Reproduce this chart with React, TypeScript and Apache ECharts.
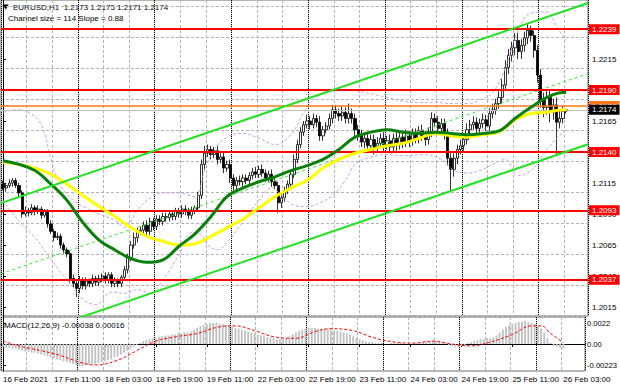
import React, { useEffect, useRef } from "react";
import * as echarts from "echarts";

// ---------- DATA ----------
const firstOpen = 1.2114;
const closes = [
  1.2111, 1.2113, 1.2115, 1.2117, 1.2113, 1.2107, 1.2090, 1.2093, 1.2091, 1.2095,
  1.2092, 1.2094, 1.2089, 1.2092, 1.2082, 1.2076, 1.2071, 1.2072, 1.2065, 1.2061,
  1.2058, 1.2038, 1.2034, 1.2030, 1.2037, 1.2032, 1.2036, 1.2034, 1.2038, 1.2035,
  1.2038, 1.2040, 1.2037, 1.2041, 1.2034, 1.2036, 1.2034, 1.2039, 1.2045, 1.2055,
  1.2065, 1.2071, 1.2076, 1.2077, 1.2081, 1.2076, 1.2084, 1.2080, 1.2086, 1.2084,
  1.2088, 1.2087, 1.2090, 1.2088, 1.2092, 1.2090, 1.2094, 1.2092, 1.2089, 1.2093,
  1.2095, 1.2105, 1.2130, 1.2139, 1.2142, 1.2138, 1.2141, 1.2134, 1.2136, 1.2127,
  1.2130, 1.2119, 1.2113, 1.2117, 1.2116, 1.2119, 1.2117, 1.2121, 1.2124, 1.2122,
  1.2126, 1.2123, 1.2119, 1.2122, 1.2116, 1.2113, 1.2099, 1.2103, 1.2109, 1.2114,
  1.2122, 1.2134, 1.2146, 1.2156, 1.2162, 1.2165, 1.2162, 1.2167, 1.2164, 1.2153,
  1.2158, 1.2161, 1.2167, 1.2174, 1.2171, 1.2169, 1.2172, 1.2167, 1.2171, 1.2167,
  1.2158, 1.2153, 1.2148, 1.2151, 1.2145, 1.2150, 1.2143, 1.2147, 1.2151, 1.2146,
  1.2149, 1.2144, 1.2151, 1.2146, 1.2152, 1.2148, 1.2153, 1.2149, 1.2155, 1.2151,
  1.2157, 1.2153, 1.2150, 1.2156, 1.2167, 1.2164, 1.2159, 1.2163, 1.2155, 1.2135,
  1.2126, 1.2135, 1.2142, 1.2145, 1.2150, 1.2158, 1.2162, 1.2164, 1.2159, 1.2163,
  1.2166, 1.2161, 1.2171, 1.2174, 1.2179, 1.2184, 1.2194, 1.2208, 1.2218, 1.2224,
  1.2230, 1.2221, 1.2226, 1.2232, 1.2238, 1.2234, 1.2222, 1.2202, 1.2182, 1.2176,
  1.2184, 1.2172, 1.2178, 1.2164, 1.2167, 1.2173, 1.2174,
];
// wick lengths in pips beyond the candle body
const upperWickPips = [
  3, 2, 3, 2, 2, 2, 2, 3, 2, 3, 2, 3, 2, 2, 2, 3, 2, 3, 2, 2,
  2, 2, 3, 2, 3, 2, 3, 2, 3, 2, 3, 2, 3, 2, 2, 3, 2, 2, 3, 3,
  3, 4, 3, 3, 3, 4, 3, 3, 3, 3, 3, 3, 3, 3, 3, 3, 3, 3, 3, 3,
  2, 3, 4, 6, 4, 3, 3, 4, 3, 4, 3, 4, 3, 3, 4, 3, 3, 3, 3, 4,
  3, 4, 3, 3, 4, 3, 3, 3, 3, 3, 3, 4, 4, 4, 3, 5, 4, 4, 3, 5,
  3, 3, 4, 4, 4, 4, 5, 4, 8, 4, 4, 4, 5, 4, 5, 4, 4, 5, 4, 5,
  4, 5, 4, 5, 4, 4, 5, 4, 4, 4, 4, 5, 4, 4, 5, 4, 5, 4, 4, 4,
  4, 4, 4, 5, 4, 5, 4, 5, 4, 4, 5, 4, 4, 5, 4, 5, 5, 6, 5, 5,
  6, 6, 5, 5, 5, 4, 4, 4, 5, 6, 5, 6, 5, 6, 6, 4, 1,
];
const lowerWickPips = [
  2, 3, 2, 3, 2, 3, 3, 2, 3, 2, 3, 2, 3, 2, 3, 2, 3, 2, 3, 3,
  3, 4, 3, 7, 4, 3, 3, 3, 3, 3, 3, 3, 3, 3, 3, 3, 3, 3, 3, 3,
  3, 3, 4, 3, 3, 3, 3, 3, 3, 3, 3, 3, 3, 3, 3, 3, 3, 3, 3, 3,
  3, 3, 3, 4, 3, 4, 3, 4, 3, 4, 3, 4, 4, 4, 3, 4, 3, 3, 3, 3,
  3, 3, 3, 3, 4, 3, 8, 4, 3, 3, 3, 3, 3, 3, 3, 3, 4, 3, 4, 4,
  4, 3, 3, 4, 4, 4, 4, 4, 4, 4, 5, 4, 4, 5, 4, 5, 5, 4, 4, 5,
  4, 5, 4, 5, 4, 5, 4, 5, 4, 4, 4, 4, 5, 4, 4, 4, 4, 5, 5, 6,
  18, 6, 5, 4, 4, 4, 4, 4, 4, 4, 4, 4, 4, 4, 4, 4, 5, 5, 5, 5,
  6, 6, 6, 5, 5, 5, 6, 6, 6, 8, 6, 8, 6, 26, 5, 4, 2,
];

const greenMA = [
  [0, 1.2133], [5, 1.2130], [10, 1.2125], [15, 1.2114], [20, 1.2101], [25, 1.2083],
  [30, 1.2069], [35, 1.2061], [40, 1.2054], [45, 1.2051], [50, 1.2053], [55, 1.2064],
  [60, 1.2074], [65, 1.2088], [70, 1.2104], [75, 1.2111], [80, 1.2116], [85, 1.2120],
  [90, 1.2125], [95, 1.2129], [100, 1.2134], [105, 1.2142], [110, 1.2152], [115, 1.2156],
  [120, 1.2158], [125, 1.2156], [130, 1.2155], [135, 1.2156], [140, 1.2155], [145, 1.2154],
  [150, 1.2155], [155, 1.2157], [160, 1.2167], [165, 1.2176], [170, 1.2184], [175, 1.2188],
  [176, 1.2188],
];
const yellowMA = [
  [0, 1.2132], [5, 1.2130], [10, 1.2127], [15, 1.2122], [20, 1.2114], [25, 1.2105],
  [30, 1.2096], [35, 1.2088], [40, 1.2079], [45, 1.2072], [50, 1.2068], [55, 1.2065],
  [60, 1.2066], [65, 1.2072], [70, 1.2079], [75, 1.2086], [80, 1.2095], [85, 1.2104],
  [90, 1.2111], [95, 1.2117], [100, 1.2127], [105, 1.2134], [110, 1.2139], [115, 1.2142],
  [120, 1.2145], [125, 1.2147], [130, 1.2151], [135, 1.2155], [140, 1.2153], [145, 1.2152],
  [150, 1.2154], [155, 1.2156], [160, 1.2166], [165, 1.2171], [170, 1.2172], [175, 1.2174],
  [176, 1.2174],
];
const bandUpper = [
  [0, 1.2172], [4, 1.2174], [8, 1.2172], [12, 1.2162], [15, 1.2134], [18, 1.2113],
  [22, 1.2101], [26, 1.2095], [30, 1.2090], [35, 1.2085], [38, 1.2079], [42, 1.2093],
  [46, 1.2103], [50, 1.2107], [55, 1.2107], [60, 1.2104], [63, 1.2125], [66, 1.2142],
  [70, 1.2152], [75, 1.2155], [80, 1.2151], [85, 1.2146], [90, 1.2154], [94, 1.2172],
  [98, 1.2184], [103, 1.2189], [108, 1.2190], [113, 1.2188], [120, 1.2184], [125, 1.2181],
  [130, 1.2180], [135, 1.2180], [140, 1.2179], [145, 1.2179], [149, 1.2182], [153, 1.2188],
  [157, 1.2208], [161, 1.2238], [165, 1.2252], [170, 1.2253], [173, 1.2241], [176, 1.2230],
];
const bandLower = [
  [0, 1.2101], [5, 1.2084], [10, 1.2071], [14, 1.2057], [18, 1.2043], [21, 1.2034],
  [25, 1.2021], [29, 1.2017], [34, 1.2027], [38, 1.2026], [42, 1.2029], [46, 1.2026],
  [50, 1.2037], [55, 1.2057], [59, 1.2075], [62, 1.2073], [64, 1.2065], [67, 1.2061],
  [70, 1.2067], [75, 1.2084], [80, 1.2101], [84, 1.2111], [87, 1.2105], [91, 1.2097],
  [95, 1.2096], [99, 1.2099], [103, 1.2105], [107, 1.2117], [110, 1.2130], [114, 1.2135],
  [120, 1.2138], [125, 1.2137], [131, 1.2138], [137, 1.2134], [141, 1.2125], [145, 1.2123],
  [149, 1.2125], [153, 1.2130], [157, 1.2134], [161, 1.2121], [165, 1.2125], [170, 1.2142],
  [173, 1.2151], [176, 1.2158],
];

const channelUpper = [[-0.625, 1.20988], [182.8125, 1.22602]];
const channelMiddle = [[-0.625, 1.20418], [182.8125, 1.22032]];
const channelLower = [[-0.625, 1.19848], [182.8125, 1.21462]];

const keyLevels = [1.2239, 1.2190, 1.2140, 1.2093, 1.2037];
const orangeLevel = 1.2177;
const bidLevel = 1.2174;
const priceTicks = [1.2015, 1.2040, 1.2065, 1.2090, 1.2115, 1.2165, 1.2215];
const priceGridBase = 1.2015; // grid lines every 0.0025 from here
const priceGridStep = 0.0025;

const timeLabelIndex = [0, 16, 32, 48, 64, 80, 96, 112, 128, 144, 160, 176];
const timeLabels = [
  "16 Feb 2021", "17 Feb 11:00", "18 Feb 03:00", "18 Feb 19:00", "19 Feb 11:00",
  "22 Feb 03:00", "22 Feb 19:00", "23 Feb 11:00", "24 Feb 03:00", "24 Feb 19:00",
  "25 Feb 11:00", "26 Feb 03:00",
];
const firstDaySeparator = 5; // 17 Feb 00:00, then every 24 bars
const barsPerDay = 24;
const timeGridStep = 8;

// MACD in units of 0.0001
const macdHist = [
  -3, -4, -4, -5, -5, -6, -7, -8, -8, -9, -9, -10, -11, -12, -13, -14, -15, -16, -17,
  -18, -19, -20, -21, -22, -23, -23, -22, -22, -21, -21, -20, -19, -18, -17, -16, -14,
  -13, -11, -9, -7, -5, -3, -1, 1, 3, 4, 5, 6, 6, 7, 8, 9, 9, 10, 10, 11, 11, 12,
  12, 13, 15, 17, 19, 20, 21, 22, 22, 22, 21, 21, 20, 19, 18, 17, 16, 15, 14, 13, 12,
  11, 10, 9, 8, 7, 7, 6, 5, 5, 5, 6, 8, 10, 12, 14, 15, 16, 17, 17, 17, 16, 16, 16,
  16, 15, 14, 14, 13, 12, 11, 10, 8, 6, 5, 4, 3, 2, 2, 1, 1, 1, 0, 0, 1, 1, 1, 1, 0,
  0, 0, 1, 1, 1, 2, 3, 3, 4, 3, 3, 2, 1, -1, -2, -3, -3, -2, -1, 1, 2, 3, 4, 5, 5, 6,
  6, 7, 9, 12, 15, 18, 20, 21, 22, 23, 23, 24, 23, 22, 21, 19, 16, 12, 6, 1, -2, -3,
  -4, -4,
];
const macdSignal = [
  [0, 3], [5, -2], [12, -7], [18, -12], [24, -19], [29, -22], [36, -17], [42, -7],
  [48, 3], [55, 8], [61, 11], [68, 18], [73, 19], [79, 14], [86, 7], [92, 6], [98, 13],
  [103, 16], [110, 14], [116, 7], [123, 2], [129, 1], [135, 3], [141, 0], [147, -2],
  [153, 2], [160, 10], [166, 19], [169, 19], [172, 11], [176, 1.6],
];
const macdTickValues = [0.0022, 0, -0.00223];
const macdTickLabels = ["0.0022", "0.00", "-0.00223"];

const FONT = "Liberation Sans, Arial, sans-serif";
const FS = 8;

// ---------- LAYOUT ----------
const GRID_LEFT = 1;
const GRID_W = 587;
const MAIN_TOP = 0;
const MAIN_H = 316;
const MACD_TOP = 317;
const MACD_H = 54;

export default function App() {
  const ref = useRef<HTMLDivElement>(null);

  useEffect(() => {
    if (!ref.current) return;
    const chart = echarts.init(ref.current, null, { renderer: "svg" });

    const candles = closes.map((c, i) => {
      const o = i === 0 ? firstOpen : closes[i - 1];
      const hi = Math.max(o, c) + upperWickPips[i] * 0.0001;
      const lo = Math.min(o, c) - lowerWickPips[i] * 0.0001;
      return [i, o, c, lo, hi];
    });

    const xMin = -0.625;
    const xMax = 182.8125;
    const mainMin = 1.2215 - 257 / 12400;
    const mainMax = 1.2215 + 59 / 12400;
    const macdMax = 27 / 9545;

    const gridLine = { color: "#b4b4b4", width: 1, type: [3, 2] };
    const sepLine = { color: "#000", width: 1, type: [1, 1] };

    // auxiliary axes used only for their split lines
    const auxX = (gridIndex: number, offset: number, interval: number, lineStyle: any) => ({
      type: "value",
      gridIndex,
      min: xMin - offset,
      max: xMax - offset,
      interval,
      axisLine: { show: false },
      axisTick: { show: false },
      axisLabel: { show: false },
      splitLine: { show: true, lineStyle },
    });

    const boxLabel = (text: string, bg: string) => ({
      show: true,
      position: "end",
      formatter: text,
      color: "#fff",
      backgroundColor: bg,
      padding: [1, 3, 1, 3],
      fontSize: FS,
      fontFamily: FONT,
      distance: 1,
    });
    const mlBase = { silent: true, symbol: ["none", "none"], animation: false, precision: 6 };

    const option: any = {
      animation: false,
      backgroundColor: "#fff",
      textStyle: { fontFamily: FONT },
      grid: [
        { left: GRID_LEFT, top: MAIN_TOP, width: GRID_W, height: MAIN_H, show: true, borderColor: "#707070", borderWidth: 1 },
        { left: GRID_LEFT, top: MACD_TOP, width: GRID_W, height: MACD_H, show: true, borderColor: "#707070", borderWidth: 1 },
      ],
      xAxis: [
        { type: "value", gridIndex: 0, min: xMin, max: xMax, show: false },
        {
          type: "value",
          gridIndex: 1,
          min: xMin,
          max: xMax,
          axisLine: { show: true, lineStyle: { color: "#000", width: 1 } },
          axisTick: { show: true, customValues: timeLabelIndex, length: 3, lineStyle: { color: "#000" } },
          axisLabel: {
            show: true,
            customValues: timeLabelIndex,
            formatter: (v: number) => {
              const k = timeLabelIndex.indexOf(Math.round(v));
              return k >= 0 ? timeLabels[k] : "";
            },
            align: "left",
            fontSize: FS,
            color: "#000",
            margin: 4,
            fontFamily: FONT,
          },
          splitLine: { show: false },
        },
        auxX(0, 0, timeGridStep, gridLine),
        auxX(1, 0, timeGridStep, gridLine),
        auxX(0, firstDaySeparator, barsPerDay, sepLine),
        auxX(1, firstDaySeparator, barsPerDay, sepLine),
      ],
      yAxis: [
        {
          type: "value",
          gridIndex: 0,
          min: mainMin,
          max: mainMax,
          position: "right",
          axisLine: { show: true, lineStyle: { color: "#000" } },
          axisTick: { show: true, customValues: priceTicks, length: 3, lineStyle: { color: "#000" } },
          axisLabel: {
            show: true,
            customValues: priceTicks,
            formatter: (v: number) => v.toFixed(4),
            fontSize: FS,
            color: "#000",
            margin: 4,
            fontFamily: FONT,
          },
          splitLine: { show: false },
        },
        {
          type: "value",
          gridIndex: 1,
          min: -macdMax,
          max: macdMax,
          position: "right",
          axisLine: { show: true, lineStyle: { color: "#000" } },
          axisTick: { show: true, customValues: macdTickValues, length: 3, lineStyle: { color: "#000" } },
          axisLabel: {
            show: true,
            customValues: macdTickValues,
            formatter: (v: number) => {
              let best = 0;
              macdTickValues.forEach((t, k) => {
                if (Math.abs(t - v) < Math.abs(macdTickValues[best] - v)) best = k;
              });
              return macdTickLabels[best];
            },
            fontSize: 7.6,
            color: "#000",
            margin: 2,
            fontFamily: FONT,
          },
          splitLine: { show: false },
        },
        {
          type: "value",
          gridIndex: 0,
          position: "left",
          min: mainMin - priceGridBase,
          max: mainMax - priceGridBase,
          interval: priceGridStep,
          axisLine: { show: false },
          axisTick: { show: false },
          axisLabel: { show: false },
          splitLine: { show: true, lineStyle: gridLine },
        },
        {
          type: "value",
          gridIndex: 1,
          position: "left",
          min: -macdMax,
          max: macdMax,
          interval: 1,
          axisLine: { show: false },
          axisTick: { show: false },
          axisLabel: { show: false },
          splitLine: { show: true, lineStyle: gridLine },
        },
      ],
      series: [
        {
          type: "candlestick",
          xAxisIndex: 0,
          yAxisIndex: 0,
          data: candles,
          encode: { x: 0, y: [1, 2, 3, 4] },
          barWidth: 2.8,
          z: 3,
          itemStyle: {
            color: "#fff",
            color0: "#000",
            borderColor: "#000",
            borderColor0: "#000",
            borderWidth: 0.8,
          },
        },
        {
          type: "line",
          xAxisIndex: 0,
          yAxisIndex: 0,
          data: bandUpper,
          smooth: 0.4,
          symbol: "none",
          z: 4,
          lineStyle: { color: "#c9a0e8", width: 1, type: [3, 2] },
        },
        {
          type: "line",
          xAxisIndex: 0,
          yAxisIndex: 0,
          data: bandLower,
          smooth: 0.4,
          symbol: "none",
          z: 4,
          lineStyle: { color: "#c9a0e8", width: 1, type: [3, 2] },
        },
        {
          type: "line",
          xAxisIndex: 0,
          yAxisIndex: 0,
          data: channelMiddle,
          symbol: "none",
          z: 4,
          lineStyle: { color: "#33e833", width: 1, type: [3, 3] },
        },
        {
          type: "line",
          xAxisIndex: 0,
          yAxisIndex: 0,
          data: yellowMA,
          smooth: 0.4,
          symbol: "none",
          z: 5,
          lineStyle: { color: "#ffff00", width: 3 },
        },
        {
          type: "line",
          xAxisIndex: 0,
          yAxisIndex: 0,
          data: greenMA,
          smooth: 0.4,
          symbol: "none",
          z: 5,
          lineStyle: { color: "#0a800a", width: 3 },
        },
        {
          type: "line",
          xAxisIndex: 0,
          yAxisIndex: 0,
          data: channelUpper,
          symbol: "none",
          z: 6,
          lineStyle: { color: "#22e022", width: 2 },
        },
        {
          type: "line",
          xAxisIndex: 0,
          yAxisIndex: 0,
          data: channelLower,
          symbol: "none",
          z: 6,
          lineStyle: { color: "#22e022", width: 2 },
        },
        {
          type: "line",
          name: "levels",
          xAxisIndex: 0,
          yAxisIndex: 0,
          data: [],
          z: 7,
          markLine: {
            ...mlBase,
            data: [
              {
                yAxis: bidLevel,
                lineStyle: { color: "#c0c0c0", type: "solid", width: 1 },
                label: { show: false },
              },
              {
                yAxis: orangeLevel,
                lineStyle: { color: "#ff7a1a", type: "solid", width: 1.5 },
                label: boxLabel(orangeLevel.toFixed(4), "#ff7a1a"),
              },
              ...keyLevels.map((v) => ({
                yAxis: v,
                lineStyle: { color: "#ff0000", type: "solid", width: 2 },
                label: boxLabel(v.toFixed(4), "#ff0000"),
              })),
            ],
          },
        },
        {
          type: "line",
          name: "bid",
          xAxisIndex: 0,
          yAxisIndex: 0,
          data: [],
          z: 8,
          markLine: {
            ...mlBase,
            data: [
              {
                yAxis: bidLevel,
                lineStyle: { color: "rgba(0,0,0,0)", width: 0 },
                label: boxLabel(bidLevel.toFixed(4), "#000"),
              },
            ],
          },
        },
        {
          type: "bar",
          xAxisIndex: 1,
          yAxisIndex: 1,
          data: macdHist.map((v, i) => [i, v * 0.0001]),
          barWidth: 1.8,
          z: 3,
          itemStyle: { color: "#c0c0c0" },
        },
        {
          type: "line",
          xAxisIndex: 1,
          yAxisIndex: 1,
          data: macdSignal.map(([i, v]) => [i, v * 0.0001]),
          smooth: 0.4,
          symbol: "none",
          z: 4,
          lineStyle: { color: "#ff0000", width: 1, type: [3, 2] },
        },
      ],
      graphic: [
        { type: "text", left: 3, top: 3, style: { text: "▼", fontSize: 7, fill: "#000", fontFamily: "DejaVu Sans" } },
        { type: "text", left: 13, top: 3, style: { text: "EURUSD,H1  1.2173 1.2175 1.2171 1.2174", fontSize: FS, fill: "#000", fontFamily: FONT } },
        { type: "text", left: 8, top: 14, style: { text: "Channel size = 114 Slope = 0.88", fontSize: FS, fill: "#000", fontFamily: FONT } },
        { type: "text", left: 4, top: 321, style: { text: "MACD(12,26,9) -0.00038 0.00016", fontSize: FS, fill: "#000", fontFamily: FONT } },
      ],
    };

    chart.setOption(option);
    return () => chart.dispose();
  }, []);

  return <div ref={ref} style={{ width: 620, height: 388, position: "absolute", left: 0, top: 0, background: "#fff" }} />;
}
